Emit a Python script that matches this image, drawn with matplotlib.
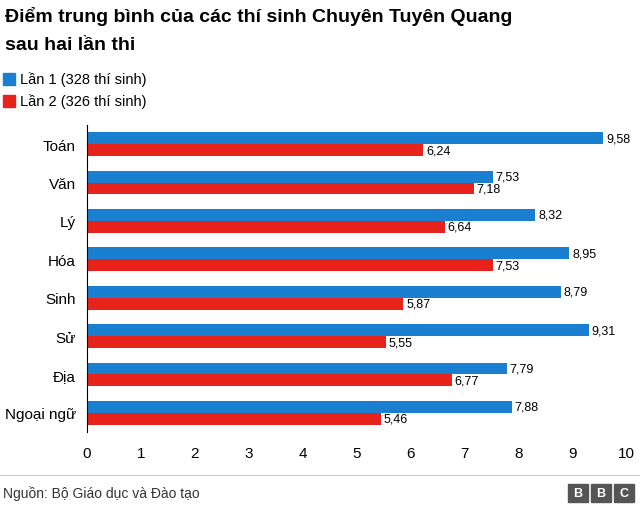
import matplotlib
matplotlib.use("Agg")
import matplotlib.pyplot as plt
from matplotlib.patches import Rectangle
import numpy as np

plt.rcParams['font.family'] = ['Liberation Sans', 'DejaVu Sans']

subjects = ["Toán", "Văn", "Lý", "Hóa", "Sinh", "Sử", "Địa", "Ngoại ngữ"]
lan1 = [9.58, 7.53, 8.32, 8.95, 8.79, 9.31, 7.79, 7.88]
lan2 = [6.24, 7.18, 6.64, 7.53, 5.87, 5.55, 6.77, 5.46]
labels = ["Lần 1 (328 thí sinh)", "Lần 2 (326 thí sinh)"]
blue = "#1a7fd0"
red = "#e8231b"

fig = plt.figure(figsize=(6.4, 5.1), dpi=100)
W, H = 640, 510
ax = fig.add_axes([87/W, 1-433/H, (626-87)/W, (433-126)/H])
y = np.arange(len(subjects))
h = 0.31
ax.barh(y - h/2, lan1, height=h, color=blue)
ax.barh(y + h/2, lan2, height=h, color=red)
for i in range(len(subjects)):
    ax.text(lan1[i] + 0.05, y[i] - h/2, f"{lan1[i]:.2f}".replace(".", ","), va="center", fontsize=9)
    ax.text(lan2[i] + 0.05, y[i] + h/2, f"{lan2[i]:.2f}".replace(".", ","), va="center", fontsize=9)
ax.set_ylim(len(subjects) - 0.5, -0.5)
ax.set_xlim(0, 10)
ax.set_xticks(range(11))
ax.set_yticks(y)
ax.set_yticklabels(subjects, fontsize=11)
ax.tick_params(axis='x', length=0, labelsize=11, pad=10)
ax.tick_params(axis='y', length=0, pad=8)
for s in ["top", "right", "bottom"]:
    ax.spines[s].set_visible(False)
ax.spines["left"].set_color("black")

fig.text(5/W, 1-16/H, "Điểm trung bình của các thí sinh Chuyên Tuyên Quang", fontsize=14, fontweight="bold", va="center")
fig.text(5/W, 1-45/H, "sau hai lần thi", fontsize=14, fontweight="bold", va="center")
for k, (lab, c) in enumerate(zip(labels, [blue, red])):
    yy = 80 + k*22
    fig.patches.append(Rectangle((3/W, 1-(yy+6)/H), 12/W, 12/H, color=c, transform=fig.transFigure))
    fig.text(20/W, 1-yy/H, lab, fontsize=10.5, va="center")

fig.add_artist(plt.Line2D([0, 1], [1-476/H]*2, color="#cccccc", lw=0.8))
fig.text(3/W, 1-494/H, "Nguồn: Bộ Giáo dục và Đào tạo", fontsize=10, va="center", color="#333333")
for k, ch in enumerate("BBC"):
    x0 = 568 + k*23
    fig.patches.append(Rectangle((x0/W, 1-503/H), 20/W, 18/H, color="#555555", transform=fig.transFigure))
    fig.text((x0+10)/W, 1-494/H, ch, fontsize=9, fontweight="bold", color="white", ha="center", va="center")

fig.savefig("out.png", dpi=100)
